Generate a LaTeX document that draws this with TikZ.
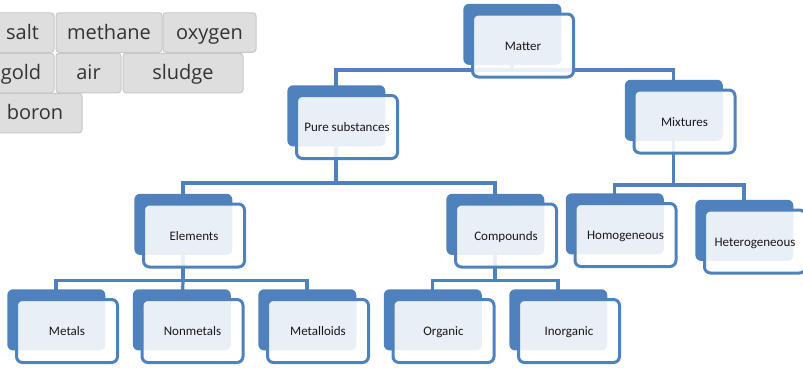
\documentclass[tikz,border=0pt]{standalone}
\usepackage{fontspec}
\usepackage{xcolor}
\usepackage{tikz}
\usetikzlibrary{shadows, backgrounds}
\newfontfamily\carlito{Carlito}
\newfontfamily\opensans{Open Sans}
\definecolor{boxblue}{HTML}{4F81BD}
\definecolor{tagfill}{HTML}{DEDEDE}
\definecolor{tagline}{HTML}{C8C8C8}

\begin{document}
\begin{tikzpicture}[x=1pt, y=-1pt, node distance=125.5pt,
                    link/.style={draw=boxblue, line width=3.2pt}]
\tikzstyle{concept}=[rectangle, rounded corners=6pt, draw=boxblue, line width=3pt,
                    fill=white, fill opacity=0.88, text opacity=1, text=black!90,
                    minimum width=101pt, minimum height=63pt, inner sep=1pt,
                    text height=10pt, text depth=1pt,
                    font=\carlito\fontsize{13}{15}\selectfont,
                    general shadow={fill=boxblue, fill opacity=1, shadow scale=0.97,
                                    shadow xshift=-11pt, shadow yshift=11.5pt}]
\tikzstyle{tag}=[rectangle, rounded corners=3pt, draw=tagline, fill=tagfill,
                 line width=1pt, text=black!80, inner sep=0pt, minimum height=39.5pt,
                 text height=15pt, text depth=2pt,
                 font=\opensans\fontsize{20}{24}\selectfont]
  \useasboundingbox (0,0) rectangle (803,367);
  % word tags
  \node[tag, minimum width=63pt]  (salt)    at (22.5,32.5) {salt};
  \node[tag, minimum width=106pt] (methane) at (109,32.5)  {methane};
  \node[tag, minimum width=93pt]  (oxygen)  at (209.5,32.5) {oxygen};
  \node[tag, minimum width=66pt]  (gold)    at (21,73)     {gold};
  \node[tag, minimum width=65pt]  (air)     at (88.5,73)   {air};
  \node[tag, minimum width=120pt] (sludge)  at (183,73)    {sludge};
  \node[tag, minimum width=94pt]  (boron)   at (35,113)    {boron};
  % hierarchy
  \node[concept] (matter)  at (523,45.5)   {Matter};
  \node[concept] (pure)    at (347,127)    {Pure substances};
  \node[concept] (mix)     at (684.5,121.5) {Mixtures};
  \node[concept] (elem)    at (194,235.5)  {Elements};
  \node[concept] (comp)    at (506,235.5)  {Compounds};
  \node[concept] (homog)   at (625.5,235)  {Homogeneous};
  \node[concept] (heter)   at (755,241.5)  {Heterogeneous};
  \node[concept] (metals)  at (67,331)     {Metals};
  \node[concept] (nonmet)  [right of=metals]  {Nonmetals};
  \node[concept] (metallo) [right of=nonmet]  {Metalloids};
  \node[concept] (organic) [right of=metallo] {Organic};
  \node[concept] (inorg)   [right of=organic] {Inorganic};
  \begin{scope}[on background layer]
    \draw[link] ([xshift=-11pt]matter.center) -- ++(0,24.5) coordinate (mj);
    \draw[link] ([xshift=-11pt]pure.center) |- (mj) -| ([xshift=-11pt]mix.center);
    \draw[link] ([xshift=-11pt]pure.center) -- ++(0,56) coordinate (pj);
    \draw[link] ([xshift=-11pt]elem.center) |- (pj) -| ([xshift=-11pt]comp.center);
    \draw[link] ([xshift=-11pt]mix.center) -- ++(0,63.5) coordinate (xj);
    \draw[link] ([xshift=-11pt]homog.center) |- (xj) -| ([xshift=-11pt]heter.center);
    \draw[link] ([xshift=-11pt]elem.center) -- ++(0,45) coordinate (ej);
    \draw[link] ([xshift=-11pt]metals.center) |- (ej) -| ([xshift=-11pt]metallo.center);
    \draw[link] (ej) -- ([xshift=-11pt]nonmet.center);
    \draw[link] ([xshift=-11pt]comp.center) -- ++(0,45) coordinate (cj);
    \draw[link] ([xshift=-11pt]organic.center) |- (cj) -| ([xshift=-11pt]inorg.center);
  \end{scope}
\end{tikzpicture}
\end{document}
